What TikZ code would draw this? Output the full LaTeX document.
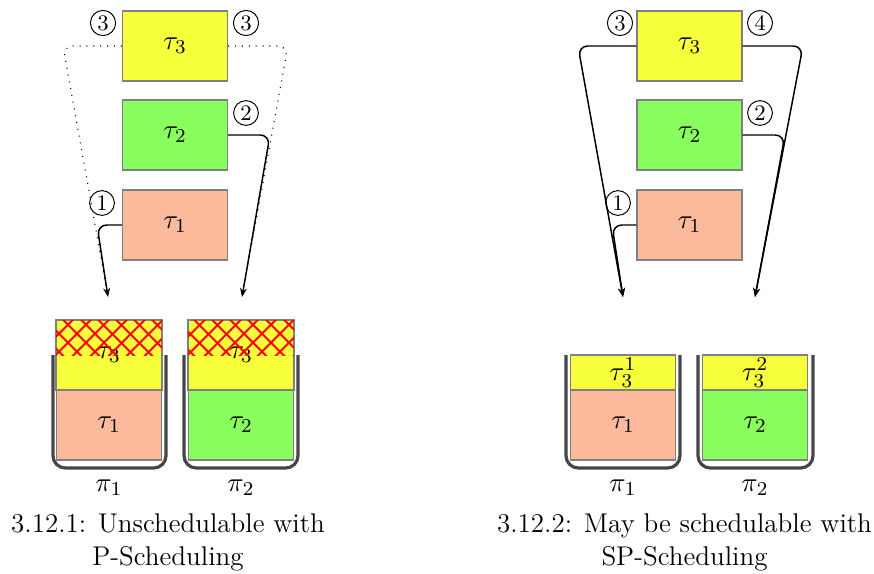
\documentclass[tikz,border=0pt]{standalone}
\usetikzlibrary{arrows.meta,patterns.meta}
\definecolor{cA}{RGB}{251,186,156}
\definecolor{cB}{RGB}{136,255,94}
\definecolor{cC}{RGB}{247,255,58}
\definecolor{wall}{RGB}{70,70,70}
\begin{document}
\begin{tikzpicture}[x=0.142857mm,y=-0.142857mm,
  task/.style={draw=gray, line width=0.5pt, minimum width=1.5cm, minimum height=1cm, inner sep=0pt, font=\fontsize{11}{13}\selectfont},
  half/.style={task, minimum height=0.5cm},
  num/.style={circle, draw, line width=0.4pt, inner sep=0.9pt, font=\fontsize{9}{10}\selectfont},
  flow/.style={-{Stealth[length=3.6pt,width=2.8pt]}, rounded corners=4pt, line width=0.6pt},
  ghost/.style={dash pattern=on 0.4pt off 2.4pt, rounded corners=4pt, line width=0.45pt},
  cpu/.style={line width=1.3pt, draw=wall, rounded corners=5pt},
  plab/.style={font=\fontsize{11}{13}\selectfont},
  captext/.style={align=center, font=\fontsize{11}{13.4}\selectfont},
  hatchA/.style={pattern={Lines[angle=45,distance=5.4pt,line width=0.9pt]}, pattern color=red},
  hatchB/.style={pattern={Lines[angle=-45,distance=5.4pt,line width=0.9pt]}, pattern color=red}]
\useasboundingbox (0,0) rectangle (874,574);

% ---------- left panel ----------
\node[task, fill=cC] (Lt3) at (175,46) {$\tau_3$};
\node[task, fill=cB] (Lt2) at (175,135) {$\tau_2$};
\node[task, fill=cA] (Lt1) at (175,225) {$\tau_1$};
\node[num] (Ln3a) at (103,23) {3};
\node[num] (Ln3b) at (246,23) {3};
\node[num] (Ln2) at (246,113) {2};
\node[num] (Ln1) at (102,203) {1};
\coordinate (La) at (108,297);
\coordinate (Lb) at (242,297);
\draw[ghost] (Lt3.west) -- (63,46) -- (La);
\draw[ghost] (Lt3.east) -- (288,46) -- (Lb);
\draw[flow] (Lt1.west) -- (97,225) -- (La);
\draw[flow] (Lt2.east) -- (270,135) -- (Lb);

\draw[cpu] (53,355) -- (53,468) -- (166,468) -- (166,355);
\draw[cpu] (184,355) -- (184,468) -- (298,468) -- (298,355);
\node[task, fill=cC] (LP1t3) at (109,355) {$\tau_3$};
\node[task, fill=cA] (LP1t1) at (109,425) {$\tau_1$};
\node[task, fill=cC] (LP2t3) at (241,355) {$\tau_3$};
\node[task, fill=cB] (LP2t2) at (241,425) {$\tau_2$};
\fill[hatchA] (LP1t3.north west) rectangle (LP1t3.east);
\fill[hatchB] (LP1t3.north west) rectangle (LP1t3.east);
\fill[hatchA] (LP2t3.north west) rectangle (LP2t3.east);
\fill[hatchB] (LP2t3.north west) rectangle (LP2t3.east);
\draw[draw=gray, line width=0.5pt] (LP1t3.north west) rectangle (LP1t3.south east);
\draw[draw=gray, line width=0.5pt] (LP2t3.north west) rectangle (LP2t3.south east);
\node[plab] (Lpi1) at (109,488) {$\pi_1$};
\node[plab] (Lpi2) at (241,488) {$\pi_2$};
\node[captext] (Lcap) at (168,542) {3.12.1: Unschedulable with\\P-Scheduling};

% ---------- right panel ----------
\node[task, fill=cC] (Rt3) at (689.5,46) {$\tau_3$};
\node[task, fill=cB] (Rt2) at (689.5,135) {$\tau_2$};
\node[task, fill=cA] (Rt1) at (689.5,225) {$\tau_1$};
\node[num] (Rn3) at (620,23) {3};
\node[num] (Rn4) at (760,23) {4};
\node[num] (Rn2) at (760,113) {2};
\node[num] (Rn1) at (618,203) {1};
\coordinate (Ra) at (623,297);
\coordinate (Rb) at (755,297);
\draw[flow] (Rt3.west) -- (578,46) -- (Ra);
\draw[flow] (Rt3.east) -- (803,46) -- (Rb);
\draw[flow] (Rt1.west) -- (612,225) -- (Ra);
\draw[flow] (Rt2.east) -- (785,135) -- (Rb);

\draw[cpu] (566,355) -- (566,468) -- (680,468) -- (680,355);
\draw[cpu] (698,355) -- (698,468) -- (813,468) -- (813,355);
\node[half, fill=cC] (RP1t3) at (623,372.5) {$\tau_3^1$};
\node[task, fill=cA] (RP1t1) at (623,425) {$\tau_1$};
\node[half, fill=cC] (RP2t3) at (755,372.5) {$\tau_3^2$};
\node[task, fill=cB] (RP2t2) at (755,425) {$\tau_2$};
\node[plab] (Rpi1) at (623,488) {$\pi_1$};
\node[plab] (Rpi2) at (755,488) {$\pi_2$};
\node[captext] (Rcap) at (684.5,542) {3.12.2: May be schedulable with\\SP-Scheduling};
\end{tikzpicture}
\end{document}
